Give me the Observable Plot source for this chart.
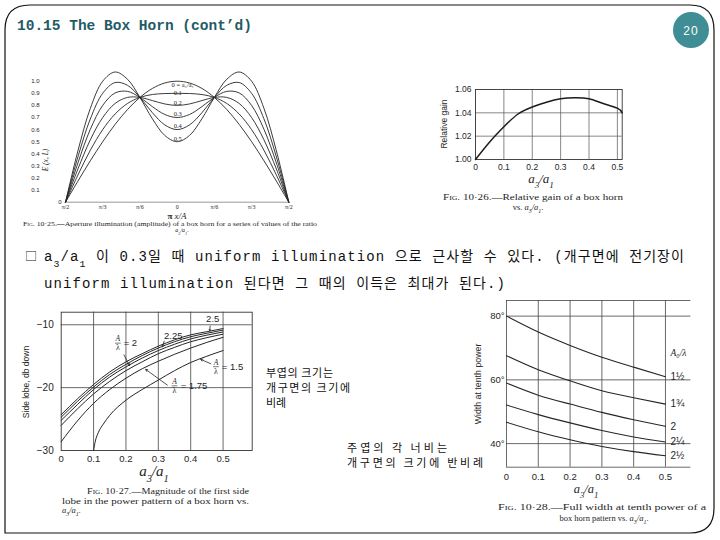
<!DOCTYPE html>
<html><head><meta charset="utf-8">
<script src="https://cdn.jsdelivr.net/npm/d3@7"></script>
<script src="https://cdn.jsdelivr.net/npm/@observablehq/plot@0.6"></script>
<style>
body{margin:0;background:#fff;}
#slide{position:relative;width:720px;height:540px;overflow:hidden;background:#fff;}
.chart{position:absolute;}
.chart svg{display:block;background:transparent;overflow:visible;}
#deco{position:absolute;left:0;top:0;pointer-events:none;}
</style></head><body><div id="slide"></div>
<script>
// ---------------- DATA ----------------
// Fig 10-25: aperture illumination E(x,L) vs angle (degrees of pi x / A)
const illumAngles = [-90,-80,-70,-60,-50,-40,-30,-20,-10,0,10,20,30,40,50,60,70,80,90];
const illumRatios = [0, 0.1, 0.2, 0.3, 0.4, 0.5];
const illumR0 = [0,.174,.342,.500,.643,.766,.866,.940,.985,1.000,.985,.940,.866,.766,.643,.500,.342,.174,0];
const illumR1 = [0,.224,.429,.600,.729,.816,.866,.890,.898,.900,.898,.890,.866,.816,.729,.600,.429,.224,0];
const illumR2 = [0,.274,.515,.700,.816,.866,.866,.840,.812,.800,.812,.840,.866,.866,.816,.700,.515,.274,0];
const illumR3 = [0,.324,.602,.800,.903,.916,.866,.790,.725,.700,.725,.790,.866,.916,.903,.800,.602,.324,0];
const illumR4 = [0,.374,.688,.900,.989,.966,.866,.740,.639,.600,.639,.740,.866,.966,.989,.900,.688,.374,0];
const illumR5 = [0,.424,.775,1.000,1.076,1.016,.866,.690,.552,.500,.552,.690,.866,1.016,1.076,1.000,.775,.424,0];
const illumXTicks = [-90,-60,-30,0,30,60,90];
const illumXTickLabels = ["π/2","π/3","π/6","0","π/6","π/3","π/2"];
const illumYTicks = [0.1,0.2,0.3,0.4,0.5,0.6,0.7,0.8,0.9,1.0];
const illumCurveLabels = ["0 = a₃/a₁","0.1","0.2","0.3","0.4","0.5"];
const illumCurveLabelY = [0.97,0.904,0.818,0.731,0.628,0.524];

// Fig 10-26: relative gain vs a3/a1
const gainX = [0,0.05,0.1,0.15,0.2,0.25,0.3,0.35,0.4,0.45,0.5,0.517];
const gainY = [1.000,1.015,1.028,1.039,1.045,1.049,1.052,1.053,1.052,1.048,1.044,1.040];
const gainXTicks = [0,0.1,0.2,0.3,0.4,0.5];
const gainYTicks = [1.00,1.02,1.04,1.06];

// Fig 10-27: side lobe level (db) vs a3/a1
const lobeX = [0,0.05,0.1,0.15,0.2,0.25,0.3,0.35,0.4,0.45,0.5];
const lobeA = [-24.3,-21.8,-19.5,-17.5,-15.9,-14.6,-13.4,-12.4,-11.6,-11.1,-10.6];
const lobeB = [-24.7,-22.2,-19.9,-17.9,-16.3,-14.9,-13.7,-12.7,-11.9,-11.35,-10.85];
const lobeC = [-25.2,-22.7,-20.3,-18.3,-16.7,-15.3,-14.1,-13.1,-12.25,-11.65,-11.15];
const lobeD = [-26.0,-23.4,-21.0,-19.0,-17.3,-15.9,-14.6,-13.6,-12.7,-12.05,-11.5];
const lobeE = [-28.6,-25.3,-22.5,-20.3,-18.5,-17.0,-15.8,-14.7,-13.7,-12.8,-12.0];
const lobe15X = [0.1,0.105,0.115,0.13,0.15,0.2,0.25,0.3,0.35,0.4,0.45,0.5];
const lobe15Y = [-30,-28.6,-27.1,-25.8,-24.4,-22.0,-20.3,-18.8,-17.3,-16.0,-15.0,-14.1];
const lobeXTicks = [0,0.1,0.2,0.3,0.4,0.5];
const lobeYTicks = [-10,-20,-30];
const lobeValueLabels = ["2.5","2.25"];
const lobeRatioLabels = ["= 2","= 1.5","= 1.75"];

// Fig 10-28: full width at tenth power vs a3/a1
const widthX = [0,0.1,0.2,0.3,0.4,0.5];
const width150 = [80.0,75.0,70.8,67.1,64.0,61.0];
const width175 = [67.6,63.2,59.7,56.6,54.4,52.4];
const width200 = [59.0,55.2,52.4,49.8,47.5,45.4];
const width225 = [52.1,49.1,46.5,44.1,42.1,40.5];
const width250 = [46.7,43.7,41.2,39.1,37.5,36.2];
const widthLabels = ["1½","1¾","2","2¼","2½"];
const widthXTicks = [0,0.1,0.2,0.3,0.4,0.5];
const widthYTicks = [40,60,80];

// ---------------- HELPERS ----------------
const slide = document.getElementById("slide");
function place(svg, left, top){
  const d = document.createElement("div");
  d.className = "chart"; d.style.left = left+"px"; d.style.top = top+"px";
  d.appendChild(svg); slide.appendChild(d);
}
const INK = "#262626";
const sans = "Liberation Sans, Arial, sans-serif";
const serif = "Liberation Serif, Times New Roman, serif";
const fmt1 = d => d === 0 ? "0" : String(+d.toFixed(1));

// ---------------- CHART 1 ----------------
{
  const series = [illumR0, illumR1, illumR2, illumR3, illumR4, illumR5];
  const rows = illumRatios.flatMap((r,i) => illumAngles.map((a,j) => ({ratio:r, angle:a, e:series[i][j]})));
  const lab = illumCurveLabels.map((t,i) => ({t, y:illumCurveLabelY[i], first:i===0}));
  const svg = Plot.plot({
    width:300, height:180, marginLeft:45, marginRight:31.7, marginTop:20.7, marginBottom:38.3,
    x:{domain:[-90,90], axis:null}, y:{domain:[0,1], axis:null},
    style:{background:"transparent", fontFamily:sans, fontSize:"6px", color:INK},
    marks:[
      Plot.ruleY([0], {stroke:"#555", strokeWidth:0.6}),
      Plot.line(rows, {x:"angle", y:"e", z:"ratio", curve:"catmull-rom", stroke:INK, strokeWidth:0.9}),
      Plot.text(illumYTicks, {x:-90, y:d=>d, text:d=>d.toFixed(1), dx:-26, textAnchor:"end", fontSize:6, fill:INK}),
      Plot.text([0], {x:-90, y:0, text:()=>"0", dx:-4, textAnchor:"end", fontSize:6, fill:INK}),
      Plot.text(illumXTicks, {x:d=>d, y:0, text:(d,i)=>illumXTickLabels[i], dy:5, fontSize:6, fontFamily:serif, fill:INK}),
      Plot.text(lab.filter(d=>d.first), {x:-4.5, y:"y", text:"t", textAnchor:"start", fontSize:6.5, fontFamily:serif, fill:INK}),
      Plot.text(lab.filter(d=>!d.first), {x:0.5, y:"y", text:"t", fontSize:6.5, fontFamily:serif, fill:INK})
    ]
  });
  place(svg, 20, 60);
}

// ---------------- CHART 2 ----------------
{
  const rows = gainX.map((x,i) => ({x, y:gainY[i]}));
  const svg = Plot.plot({
    width:220, height:150, marginLeft:55, marginRight:18.3, marginTop:19, marginBottom:61,
    x:{domain:[0,0.517]}, y:{domain:[1.0,1.06]},
    style:{background:"transparent", fontFamily:sans, fontSize:"8.5px", color:INK},
    marks:[
      Plot.ruleX(gainXTicks.filter(d=>d>0), {stroke:"#555", strokeWidth:0.7}),
      Plot.ruleY([1.02,1.04], {stroke:"#555", strokeWidth:0.7}),
      Plot.frame({stroke:"#333", strokeWidth:0.9}),
      Plot.line(rows, {x:"x", y:"y", curve:"natural", stroke:"#1c1c1c", strokeWidth:1.5}),
      Plot.axisY({ticks:gainYTicks, tickFormat:d=>d.toFixed(2), tickSize:0, tickPadding:4, label:null, fill:INK}),
      Plot.axisX({ticks:gainXTicks, tickFormat:fmt1, tickSize:0, tickPadding:4, label:null, fill:INK})
    ]
  });
  place(svg, 420, 70);
}

// ---------------- CHART 3 ----------------
{
  const curves = [lobeA, lobeB, lobeC, lobeD, lobeE];
  const rows = curves.flatMap((c,k) => lobeX.map((x,i) => ({k, x, y:c[i]})))
    .concat(lobe15X.map((x,i) => ({k:5, x, y:lobe15Y[i]})));
  const fr = [ {x:0.175, y:-12.92}, {x:0.478, y:-16.67}, {x:0.350, y:-19.71} ];
  const eqs = [ {x:0.193, y:-12.92}, {x:0.496, y:-16.67}, {x:0.369, y:-19.71} ];
  const vals = [ {x:0.468, y:-9.05}, {x:0.346, y:-11.83} ];
  const arrows = [
    {x1:0.460, y1:-10.2, x2:0.459, y2:-10.95},
    {x1:0.318, y1:-12.6, x2:0.313, y2:-13.5},
    {x1:0.194, y1:-14.8, x2:0.211, y2:-16.5},
    {x1:0.462, y1:-16.2, x2:0.431, y2:-15.5},
    {x1:0.328, y1:-19.6, x2:0.261, y2:-17.1}
  ];
  const hw = 0.009;
  const svg = Plot.plot({
    width:240, height:165, marginLeft:40.7, marginRight:8.3, marginTop:11.7, marginBottom:15,
    x:{domain:[0,0.59]}, y:{domain:[-30,-8]},
    style:{background:"transparent", fontFamily:sans, fontSize:"9.5px", color:INK},
    marks:[
      Plot.ruleX(lobeXTicks.filter(d=>d>0), {stroke:"#444", strokeWidth:0.8}),
      Plot.ruleY([-10,-20], {stroke:"#444", strokeWidth:0.8}),
      Plot.frame({stroke:"#333", strokeWidth:0.9}),
      Plot.line(rows, {x:"x", y:"y", z:"k", curve:"monotone-x", stroke:INK, strokeWidth:1.0}),
      Plot.axisY({ticks:lobeYTicks, tickFormat:d=>"−"+Math.abs(d), tickSize:0, tickPadding:7.5, label:null, fontSize:10, fill:INK}),
      Plot.axisX({ticks:lobeXTicks, tickFormat:fmt1, tickSize:0, tickPadding:5, label:null, fill:INK}),
      Plot.text(vals, {x:"x", y:"y", text:(d,i)=>lobeValueLabels[i], fontSize:9.5, fill:INK}),
      Plot.text(eqs, {x:"x", y:"y", text:(d,i)=>lobeRatioLabels[i], textAnchor:"start", fontSize:9.5, fill:INK}),
      Plot.text(fr, {x:"x", y:"y", text:()=>"A", dy:-4.5, fontSize:7.5, fontFamily:serif, fontStyle:"italic", fill:INK}),
      Plot.text(fr, {x:"x", y:"y", text:()=>"λ", dy:4.8, fontSize:8, fontFamily:serif, fill:INK}),
      Plot.link(fr, {x1:d=>d.x-hw, x2:d=>d.x+hw, y1:"y", y2:"y", stroke:INK, strokeWidth:0.6}),
      Plot.arrow(arrows, {x1:"x1", y1:"y1", x2:"x2", y2:"y2", stroke:INK, strokeWidth:0.8, headLength:4, bend:0})
    ]
  });
  place(svg, 20, 300);
}

// ---------------- CHART 4 ----------------
{
  const curves = [width150, width175, width200, width225, width250];
  const rows = curves.flatMap((c,k) => widthX.map((x,i) => ({k, x, y:c[i]})));
  const ends = curves.map((c,k) => ({x:0.5, y:c[c.length-1], t:widthLabels[k]}));
  const svg = Plot.plot({
    width:250, height:190, marginLeft:36, marginRight:29.6, marginTop:5, marginBottom:18.3,
    x:{domain:[0,0.58]}, y:{domain:[32.6,84.9]},
    style:{background:"transparent", fontFamily:sans, fontSize:"9.5px", color:INK},
    marks:[
      Plot.ruleY([32.6,40,60,80,84.9], {stroke:"#444", strokeWidth:0.8}),
      Plot.ruleX([0,0.1,0.2,0.3,0.4,0.5], {stroke:"#444", strokeWidth:0.8}),
      Plot.line(rows, {x:"x", y:"y", z:"k", curve:"natural", stroke:INK, strokeWidth:1.1}),
      Plot.axisY({ticks:widthYTicks, tickFormat:d=>d+"°", tickSize:0, tickPadding:2, label:null, fill:INK}),
      Plot.axisX({ticks:widthXTicks, tickFormat:fmt1, tickSize:0, tickPadding:6, label:null, fill:INK}),
      Plot.text(ends, {x:"x", y:"y", text:"t", dx:5, textAnchor:"start", fontSize:10, fill:INK}),
      Plot.text([0], {x:0.541, y:68.3, text:()=>"A₀/λ", fontSize:9.5, fontFamily:serif, fontStyle:"italic", fill:INK})
    ]
  });
  place(svg, 470, 295);
}

// ---------------- SLIDE DECORATION & TEXT ----------------
const sub = t => `<tspan baseline-shift="sub" font-size="70%">${t}</tspan>`;
const a31 = `a${sub(3)}/a${sub(1)}`;
const deco = `
<svg id="deco" width="720" height="540" viewBox="0 0 720 540" xmlns="http://www.w3.org/2000/svg">
  <path d="M5,30 Q5,5 30,5 H690 Q714,5 714,30 V508 Q714,533 690,533 H5 Z" fill="none" stroke="#111" stroke-width="1.2"/>
  <text x="17" y="30" font-family="Liberation Mono, monospace" font-weight="bold" font-size="14.5" fill="#1f5b66">10.15 The Box Horn (cont’d)</text>
  <circle cx="691" cy="30" r="18" fill="#3f8e96"/>
  <text x="691" y="34.5" text-anchor="middle" font-family="${sans}" font-size="12" fill="#fff" letter-spacing="1">20</text>

  <!-- chart 1 texts -->
  <text x="48" y="160" transform="rotate(-90 48 160)" text-anchor="middle" font-family="${serif}" font-style="italic" font-size="7.5" fill="${INK}">E (x, L)</text>
  <text x="177" y="218.5" text-anchor="middle" font-family="${serif}" font-size="9" fill="${INK}"><tspan font-weight="bold">π</tspan> <tspan font-style="italic">x/A</tspan></text>
  <text x="23" y="225.5" textLength="294" lengthAdjust="spacingAndGlyphs" font-family="${serif}" font-size="6" fill="${INK}"><tspan style="font-variant:small-caps">Fig.</tspan> 10·25.—Aperture illumination (amplitude) of a box horn for a series of values of the ratio</text>
  <text x="182" y="231.5" text-anchor="middle" font-family="${serif}" font-style="italic" font-size="6" fill="${INK}">${a31}.</text>

  <!-- chart 2 texts -->
  <text x="447" y="124" transform="rotate(-90 447 124)" text-anchor="middle" font-family="${sans}" font-size="8.5" fill="${INK}">Relative gain</text>
  <text x="541" y="183" text-anchor="middle" font-family="${serif}" font-style="italic" font-size="13" fill="${INK}">${a31}</text>
  <text x="443" y="200" textLength="180" lengthAdjust="spacingAndGlyphs" font-family="${serif}" font-size="8.5" fill="${INK}"><tspan style="font-variant:small-caps">Fig.</tspan> 10·26.—Relative gain of a box horn</text>
  <text x="528" y="209.5" text-anchor="middle" font-family="${serif}" font-size="8.5" fill="${INK}">vs. <tspan font-style="italic">${a31}</tspan>.</text>

  <!-- chart 3 texts -->
  <text x="29" y="382" transform="rotate(-90 29 382)" text-anchor="middle" font-family="${sans}" font-size="8.5" fill="${INK}">Side lobe, db down</text>
  <text x="154" y="476" text-anchor="middle" font-family="${serif}" font-style="italic" font-size="15" fill="${INK}">${a31}</text>
  <text x="87" y="494" textLength="162" lengthAdjust="spacingAndGlyphs" font-family="${serif}" font-size="8.5" fill="${INK}"><tspan style="font-variant:small-caps">Fig.</tspan> 10·27.—Magnitude of the first side</text>
  <text x="62" y="503.5" textLength="187" lengthAdjust="spacingAndGlyphs" font-family="${serif}" font-size="8.5" fill="${INK}">lobe in the power pattern of a box horn vs.</text>
  <text x="62" y="513" font-family="${serif}" font-style="italic" font-size="8.5" fill="${INK}">${a31}.</text>

  <!-- chart 4 texts -->
  <text x="481" y="384" transform="rotate(-90 481 384)" text-anchor="middle" font-family="${sans}" font-size="8.8" fill="${INK}">Width at tenth power</text>
  <text x="586" y="493" text-anchor="middle" font-family="${serif}" font-style="italic" font-size="12.5" fill="${INK}">${a31}</text>
  <text x="498" y="510" textLength="208" lengthAdjust="spacingAndGlyphs" font-family="${serif}" font-size="8.5" fill="${INK}"><tspan style="font-variant:small-caps">Fig.</tspan> 10·28.—Full width at tenth power of a</text>
  <text x="604" y="520.5" text-anchor="middle" font-family="${serif}" font-size="8.5" fill="${INK}">box horn pattern vs. <tspan font-style="italic">${a31}</tspan>.</text>

  <!-- bullet text -->
  <text x="25" y="261" font-family="Noto Sans CJK KR, sans-serif" font-size="12" fill="#222">□</text>
  <text x="44" y="261" textLength="640" lengthAdjust="spacing" font-family="Liberation Mono, Noto Sans CJK KR, monospace" font-size="14" fill="#111">${a31} 이 0.3일 때 uniform illumination 으로 근사할 수 있다. (개구면에 전기장이</text>
  <text x="44" y="288" textLength="461" lengthAdjust="spacing" font-family="Liberation Mono, Noto Sans CJK KR, monospace" font-size="14" fill="#111">uniform illumination 된다면 그 때의 이득은 최대가 된다.)</text>

  <!-- Korean notes -->
  <g font-family="Noto Sans CJK KR, sans-serif" font-size="11" fill="#111">
    <text x="266" y="377" textLength="67" lengthAdjust="spacing">부엽의 크기는</text>
    <text x="266" y="392" textLength="84" lengthAdjust="spacing">개구면의 크기에</text>
    <text x="266" y="407">비례</text>
    <text x="347" y="452" textLength="100" lengthAdjust="spacing">주엽의 각 너비는</text>
    <text x="347" y="467" textLength="136" lengthAdjust="spacing">개구면의 크기에 반비례</text>
  </g>
</svg>`;
slide.insertAdjacentHTML("beforeend", deco);
</script>
</body></html>
